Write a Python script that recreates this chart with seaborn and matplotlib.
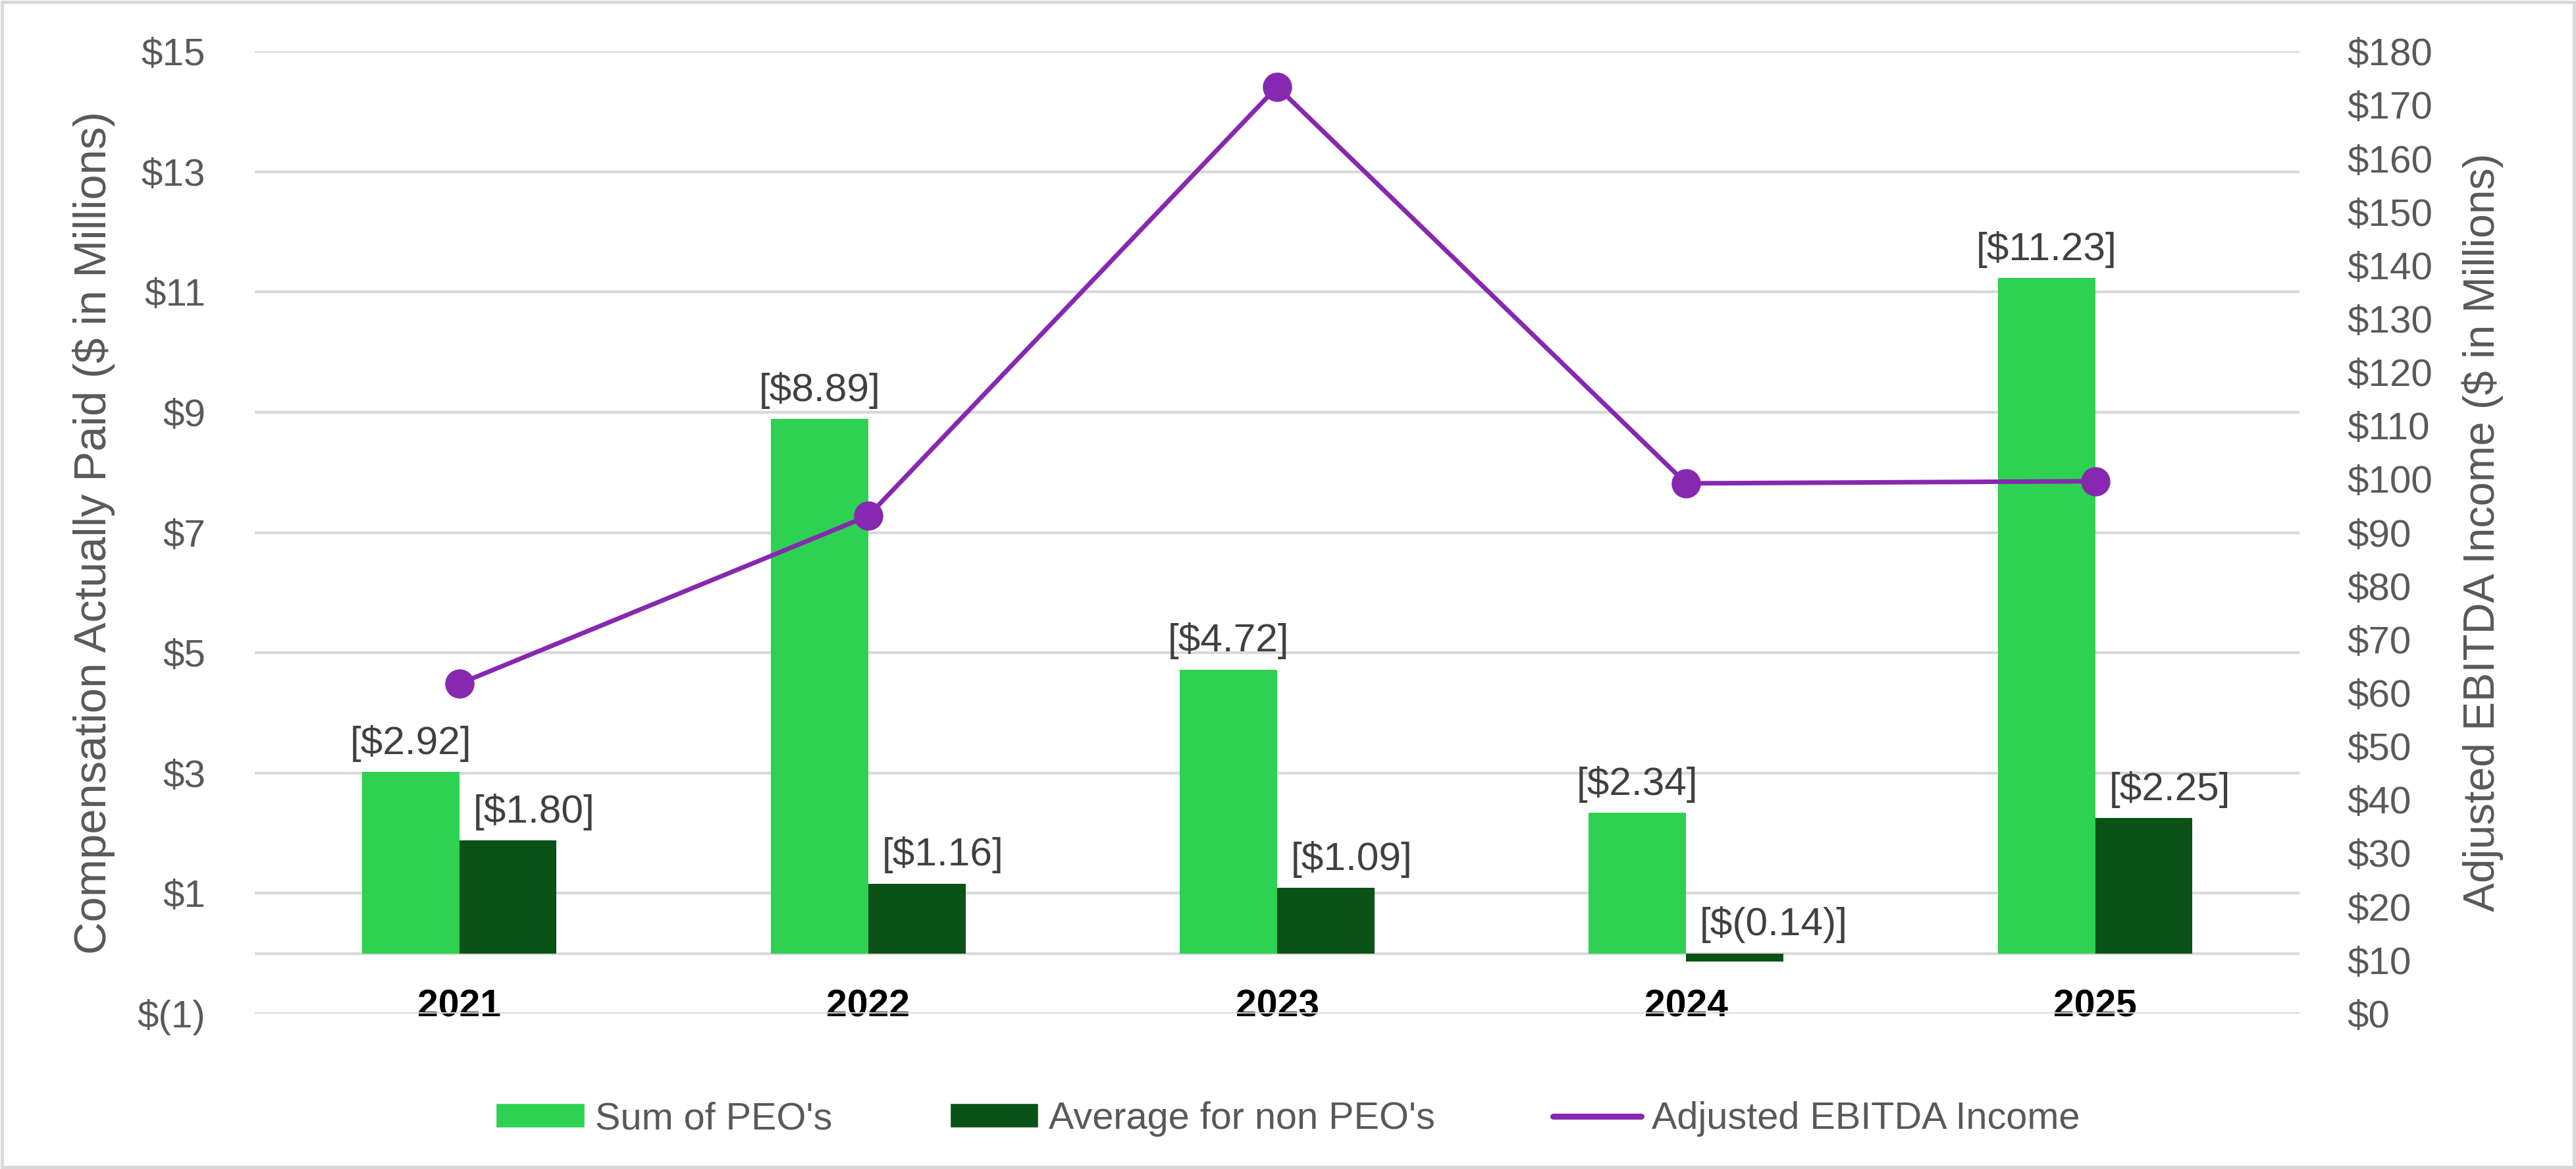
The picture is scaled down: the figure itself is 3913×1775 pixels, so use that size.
"""
Compensation Actually Paid vs Adjusted EBITDA Income, 2021-2025.
Grouped bars (left axis, $M) with the EBITDA line on a twin right axis.
"""

import matplotlib.pyplot as plt
import numpy as np
import pandas as pd
import seaborn as sns
from matplotlib.lines import Line2D
from matplotlib.patches import Patch, Rectangle
from matplotlib.ticker import FuncFormatter

# ---------------------------------------------------------------------------
# DATA
# ---------------------------------------------------------------------------
years = ["2021", "2022", "2023", "2024", "2025"]

# bar heights as drawn (the 2021 bars sit a touch above their labels)
sum_peo = [3.02, 8.89, 4.72, 2.34, 11.23]
avg_non_peo = [1.88, 1.16, 1.09, -0.14, 2.25]

# values printed in the bracketed data labels
sum_peo_labels = [2.92, 8.89, 4.72, 2.34, 11.23]
avg_non_peo_labels = [1.80, 1.16, 1.09, -0.14, 2.25]

adj_ebitda = [61.7, 93.1, 173.4, 99.2, 99.6]

series_names = ["Sum of PEO's", "Average for non PEO's"]
line_name = "Adjusted EBITDA Income"

left_ticks = list(range(-1, 16, 2))
right_ticks = list(range(0, 181, 10))

LIGHT = "#2ED152"
DARK = "#0A5216"
PURPLE = "#8628B0"
GRID = "#D9D9D9"
TXT = "#595959"
LBL = "#404040"

# ---------------------------------------------------------------------------
# FIGURE
# ---------------------------------------------------------------------------
sns.set_theme(style="white")
plt.rcParams["font.family"] = ["Liberation Sans", "DejaVu Sans"]

fig = plt.figure(figsize=(39.13, 17.75), dpi=100)
ax = fig.add_axes([0.0989, 0.1330, 0.7938, 0.8229])

bars = pd.DataFrame({
    "year": years * 2,
    "value": sum_peo + avg_non_peo,
    "series": [series_names[0]] * 5 + [series_names[1]] * 5,
})
sns.barplot(data=bars, x="year", y="value", hue="series", order=years,
            hue_order=series_names, palette=[LIGHT, DARK], width=0.476,
            gap=0, errorbar=None, saturation=1, legend=False, ax=ax,
            linewidth=0)

ax.set_xlim(-0.5, 4.5)
ax.set_ylim(-1, 15)
ax.set_yticks(left_ticks)
ax.yaxis.set_major_formatter(FuncFormatter(
    lambda v, _: f"$({abs(int(v))})" if v < 0 else f"${int(v)}"))
ax.grid(axis="y", color=GRID, linewidth=3)
ax.axhline(0, color=GRID, linewidth=3, zorder=0.5)
ax.set_axisbelow(True)
ax.tick_params(axis="y", length=0, pad=54, labelsize=42, labelcolor=TXT)
ax.tick_params(axis="x", length=0, pad=-27, labelsize=41, labelcolor="black")
for t in ax.get_xticklabels():
    t.set_fontweight("bold")
ax.set_xlabel("")
ax.set_ylabel("Compensation Actually Paid ($ in Millions)", fontsize=49.5,
              color=TXT, ha="center", va="center", rotation_mode="anchor")
ax.yaxis.set_label_coords(-0.0786, 0.5)
sns.despine(ax=ax, left=True, bottom=True)

# data labels: light bars centred, dark bars left-aligned a little inside
for bar, v in zip(ax.containers[0], sum_peo_labels):
    ax.annotate(f"[${v:.2f}]", (bar.get_x() + bar.get_width() / 2, max(bar.get_height(), 0)),
                xytext=(0, 11), textcoords="offset points", ha="center", va="bottom",
                fontsize=43.5, color=LBL)
for bar, v in zip(ax.containers[1], avg_non_peo_labels):
    txt = f"[$({abs(v):.2f})]" if v < 0 else f"[${v:.2f}]"
    ax.annotate(txt, (bar.get_x(), max(bar.get_height(), 0)),
                xytext=(15, 11), textcoords="offset points", ha="left", va="bottom",
                fontsize=43.5, color=LBL)

# ---------------------------------------------------------------------------
# RIGHT AXIS: Adjusted EBITDA line
# ---------------------------------------------------------------------------
ax2 = ax.twinx()
sns.lineplot(x=np.arange(len(years)), y=adj_ebitda, color=PURPLE, linewidth=5,
             marker="o", markersize=32, markeredgewidth=0, ax=ax2)
ax2.set_ylim(0, 180)
ax2.set_yticks(right_ticks)
ax2.set_yticklabels([f"${v}" for v in right_ticks])
ax2.tick_params(axis="y", length=0, pad=52, labelsize=42, labelcolor=TXT)
ax2.grid(False)
ax2.set_ylabel("Adjusted EBITDA Income ($ in Millions)", fontsize=47.5, color=TXT,
               rotation=90, ha="center", va="center", rotation_mode="anchor")
ax2.yaxis.set_label_coords(1.0895, 0.5)
for s in ax2.spines.values():
    s.set_visible(False)

# ---------------------------------------------------------------------------
# LEGEND + chart border
# ---------------------------------------------------------------------------
handles = [Patch(facecolor=LIGHT), Patch(facecolor=DARK),
           Line2D([0], [0], color=PURPLE, linewidth=6.5)]
fig.legend(handles, series_names + [line_name], loc="center",
           bbox_to_anchor=(0.5, 0.0428), ncol=3, frameon=False, fontsize=41.5,
           labelcolor=TXT, handlelength=2.33, handleheight=0.6,
           handletextpad=0.28, columnspacing=3.1)

fig.patches.append(Rectangle((0.0008, 0.0015), 0.9984, 0.997, transform=fig.transFigure,
                             fill=False, edgecolor=GRID, linewidth=3.6))

fig.savefig("out.png", dpi=100, facecolor="white")
